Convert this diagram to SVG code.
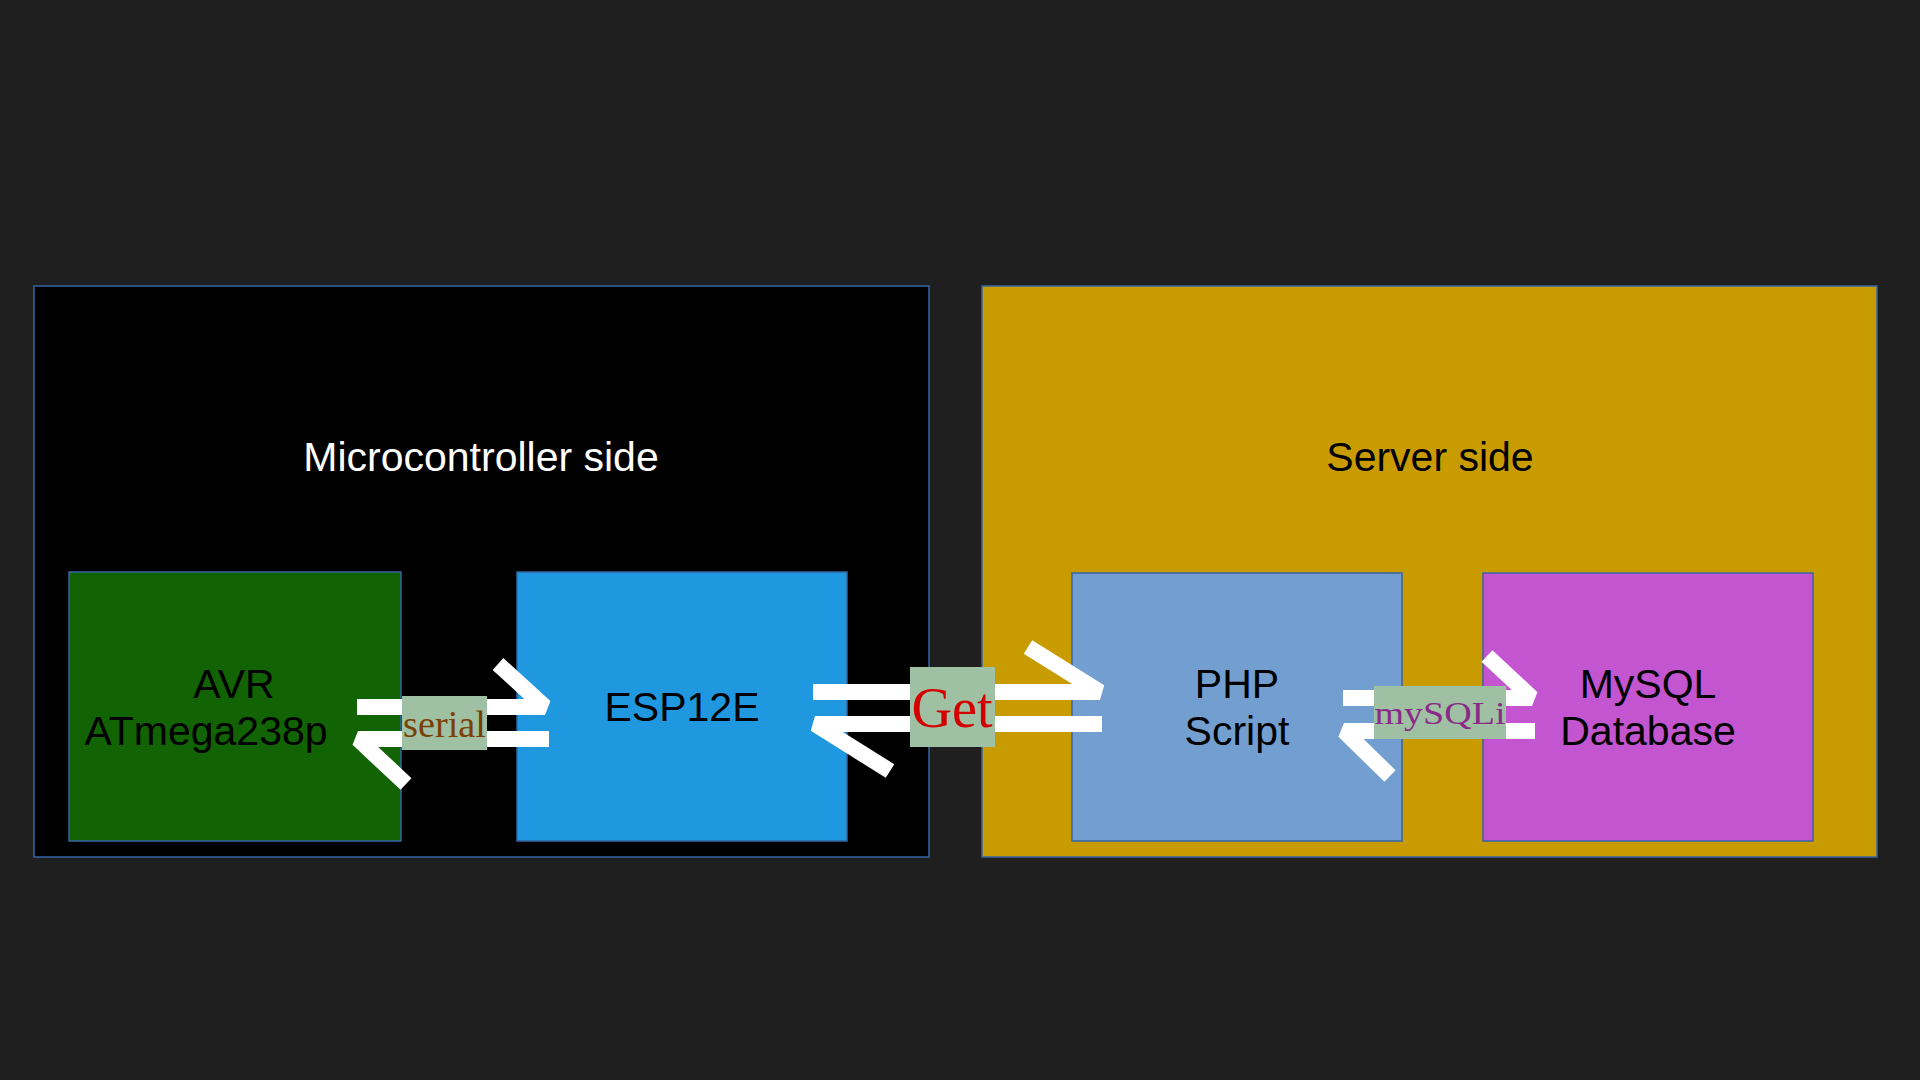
<svg xmlns="http://www.w3.org/2000/svg" width="1920" height="1080" viewBox="0 0 1920 1080">
  <defs>
    <style>
      .panel { stroke: #3465a4; stroke-width: 1.5; }
      .node { stroke: #3465a4; stroke-width: 1.5; }
      .title { font-family: "Liberation Sans", Arial, sans-serif; font-size: 41px; text-anchor: middle; }
      .ntext { font-family: "Liberation Sans", Arial, sans-serif; font-size: 41px; fill: #000000; text-anchor: middle; }
      .harpoon { fill: none; stroke: #ffffff; stroke-width: 16; stroke-linejoin: bevel; stroke-linecap: butt; }
      .lbox { fill: #9fc0a3; }
      .ltext { font-family: "Liberation Serif", "Times New Roman", serif; text-anchor: middle; }
    </style>
  </defs>
  <rect x="0" y="0" width="1920" height="1080" fill="#1f1f1f"/>

  <g id="microcontroller-side">
    <rect class="panel" x="34" y="286" width="895" height="571" fill="#000000"/>
    <text class="title" x="481" y="471" fill="#ffffff">Microcontroller side</text>
  </g>
  <g id="server-side">
    <rect class="panel" x="982" y="286" width="895" height="571" fill="#c89b00"/>
    <text class="title" x="1430" y="471" fill="#000000">Server side</text>
  </g>

  <g id="avr">
    <rect class="node" x="69" y="572" width="332" height="269" fill="#116303"/>
    <text class="ntext" x="234" y="698">AVR</text>
    <text class="ntext" x="206" y="745">ATmega238p</text>
  </g>
  <g id="esp12e">
    <rect class="node" x="517" y="572" width="330" height="269" fill="#1f98e0"/>
    <text class="ntext" x="682" y="721">ESP12E</text>
  </g>
  <g id="php">
    <rect class="node" x="1072" y="573" width="330" height="268" fill="#729fcf"/>
    <text class="ntext" x="1237" y="698">PHP</text>
    <text class="ntext" x="1237" y="745">Script</text>
  </g>
  <g id="mysql">
    <rect class="node" x="1483" y="573" width="330" height="268" fill="#c355d0"/>
    <text class="ntext" x="1648" y="698">MySQL</text>
    <text class="ntext" x="1648" y="745">Database</text>
  </g>

  <g id="connectors">
    <polyline class="harpoon" points="357,707 545,707 498,664"/>
    <polyline class="harpoon" points="549,739 358,739 406,784"/>
    <polyline class="harpoon" points="813,692 1100,692 1028,647"/>
    <polyline class="harpoon" points="1102,724 815,724 890,771"/>
    <polyline class="harpoon" points="1343,698 1532,698 1487,656"/>
    <polyline class="harpoon" points="1535,731 1344,731 1390,776"/>
  </g>

  <g id="label-serial">
    <rect class="lbox" x="402" y="696" width="85" height="54"/>
    <text class="ltext" x="444.5" y="737" font-size="38" fill="#7a3f05" textLength="83" lengthAdjust="spacingAndGlyphs">serial</text>
  </g>
  <g id="label-get">
    <rect class="lbox" x="910" y="667" width="85" height="80"/>
    <text class="ltext" x="952" y="727" font-size="56" fill="#d40000" textLength="81" lengthAdjust="spacingAndGlyphs">Get</text>
  </g>
  <g id="label-mysqli">
    <rect class="lbox" x="1374" y="686" width="132" height="53"/>
    <text class="ltext" x="1440" y="724" font-size="32" fill="#8a2a86" textLength="131" lengthAdjust="spacingAndGlyphs">mySQLi</text>
  </g>
</svg>
